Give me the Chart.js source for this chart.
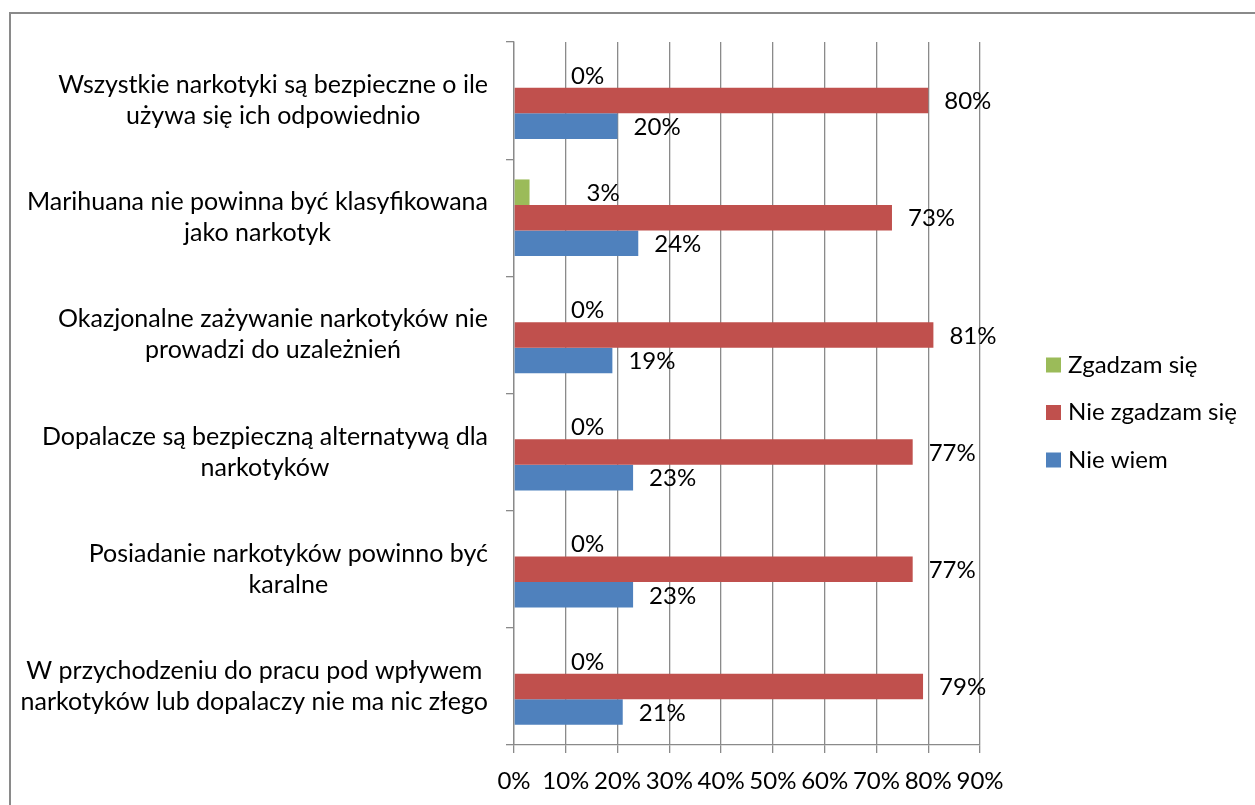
<!DOCTYPE html>
<html>
<head>
<meta charset="utf-8">
<script src="https://cdn.jsdelivr.net/npm/chart.js@4/dist/chart.umd.min.js"></script>
<style>
  html, body { margin: 0; padding: 0; background: #fff; }
  #wrap { position: relative; width: 1255px; height: 805px; }
</style>
</head>
<body>
<div id="wrap"><canvas id="c"></canvas></div>
<script>
// ---- data ----
const categories = [
  ['Wszystkie narkotyki są bezpieczne o ile', 'używa się ich odpowiednio'],
  ['Marihuana nie powinna być klasyfikowana', 'jako narkotyk'],
  ['Okazjonalne zażywanie narkotyków nie', 'prowadzi do uzależnień'],
  ['Dopalacze są bezpieczną alternatywą dla', 'narkotyków'],
  ['Posiadanie narkotyków powinno być', 'karalne'],
  ['W przychodzeniu do pracu pod wpływem', 'narkotyków lub dopalaczy nie ma nic złego']
];
const seriesNames = ['Zgadzam się', 'Nie zgadzam się', 'Nie wiem'];
const agree = [0, 3, 0, 0, 0, 0];
const disagree = [80, 73, 81, 77, 77, 79];
const dontKnow = [20, 24, 19, 23, 23, 21];
const xTickLabels = ['0%', '10%', '20%', '30%', '40%', '50%', '60%', '70%', '80%', '90%'];

// ---- styles ----
const FONT = 'Lato, "Open Sans", sans-serif';
const FS = 24;
const CAT_FS = 25;
const colors = ['#9BBB59', '#C0504D', '#4F81BD'];
const gridColor = '#8a8a8a';
const labelOffsets = [57, 16, 16];

const framePlugin = {
  id: 'frame',
  beforeDraw(chart) {
    const ctx = chart.ctx;
    ctx.save();
    ctx.fillStyle = '#fff';
    ctx.fillRect(0, 0, chart.width, chart.height);
    ctx.strokeStyle = '#8a8a8a';
    ctx.lineWidth = 2;
    ctx.strokeRect(10, 13, chart.width + 20, chart.height + 20);
    ctx.restore();
  }
};

const catLabelPlugin = {
  id: 'catLabels',
  afterDraw(chart) {
    const ctx = chart.ctx;
    const ys = chart.scales.y;
    const right = chart.chartArea.left - 26;
    const lh = 31;
    ctx.save();
    ctx.font = CAT_FS + 'px ' + FONT;
    ctx.fillStyle = '#000';
    ctx.textAlign = 'center';
    ctx.textBaseline = 'middle';
    chart.data.labels.forEach((lines, i) => {
      const yc = ys.getPixelForValue(i);
      let w = 0;
      lines.forEach(l => { w = Math.max(w, ctx.measureText(l).width); });
      const cx = right - w / 2;
      lines.forEach((l, j) => {
        ctx.fillText(l, cx, yc + (j - (lines.length - 1) / 2) * lh);
      });
    });
    ctx.restore();
  }
};

const valueLabelPlugin = {
  id: 'valueLabels',
  afterDatasetsDraw(chart) {
    const ctx = chart.ctx;
    ctx.save();
    ctx.font = FS + 'px ' + FONT;
    ctx.fillStyle = '#000';
    ctx.textAlign = 'left';
    ctx.textBaseline = 'middle';
    chart.data.datasets.forEach((ds, d) => {
      const meta = chart.getDatasetMeta(d);
      meta.data.forEach((bar, i) => {
        ctx.fillText(ds.data[i] + '%', bar.x + labelOffsets[d], bar.y + 1);
      });
    });
    ctx.restore();
  }
};

const legendPlugin = {
  id: 'customLegend',
  afterDraw(chart) {
    const ctx = chart.ctx;
    const x0 = chart.chartArea.right + 66;
    const yStart = 365, step = 47.5, box = 15;
    ctx.save();
    ctx.font = FS + 'px ' + FONT;
    ctx.textAlign = 'left';
    ctx.textBaseline = 'middle';
    chart.data.datasets.forEach((ds, d) => {
      const y = yStart + d * step;
      ctx.fillStyle = ds.backgroundColor;
      ctx.fillRect(x0, y - box / 2, box, box);
      ctx.fillStyle = '#000';
      ctx.fillText(ds.label, x0 + 22, y);
    });
    ctx.restore();
  }
};

new Chart(document.getElementById('c'), {
  type: 'bar',
  data: {
    labels: categories,
    datasets: [
      { label: seriesNames[0], data: agree, backgroundColor: colors[0] },
      { label: seriesNames[1], data: disagree, backgroundColor: colors[1] },
      { label: seriesNames[2], data: dontKnow, backgroundColor: colors[2] }
    ]
  },
  options: {
    indexAxis: 'y',
    responsive: true,
    maintainAspectRatio: false,
    animation: false,
    devicePixelRatio: 1,
    layout: { padding: { top: 42, right: 275, left: 0, bottom: 0 } },
    datasets: { bar: { categoryPercentage: 0.654, barPercentage: 1.0, borderWidth: 0 } },
    plugins: { legend: { display: false }, tooltip: { enabled: false } },
    scales: {
      x: {
        type: 'linear',
        min: 0, max: 90,
        afterBuildTicks(scale) {
          scale.ticks = xTickLabels.map(t => ({ value: parseFloat(t) }));
        },
        ticks: {
          callback: (v, i) => xTickLabels[i],
          font: { family: FONT, size: FS },
          color: '#000',
          padding: 14,
          maxRotation: 0,
          autoSkip: false
        },
        grid: { color: gridColor, lineWidth: 1.3, tickLength: 8, drawTicks: true },
        border: { color: gridColor, width: 1.3 },
        afterFit(scale) { scale.height = 60; }
      },
      y: {
        type: 'category',
        offset: true,
        ticks: { display: false },
        grid: { offset: true, drawOnChartArea: false, drawTicks: true, tickLength: 8, color: gridColor, lineWidth: 1.3 },
        border: { color: gridColor, width: 1.3 },
        afterFit(scale) { scale.width = 514; }
      }
    }
  },
  plugins: [framePlugin, catLabelPlugin, valueLabelPlugin, legendPlugin]
});
</script>
</body>
</html>
